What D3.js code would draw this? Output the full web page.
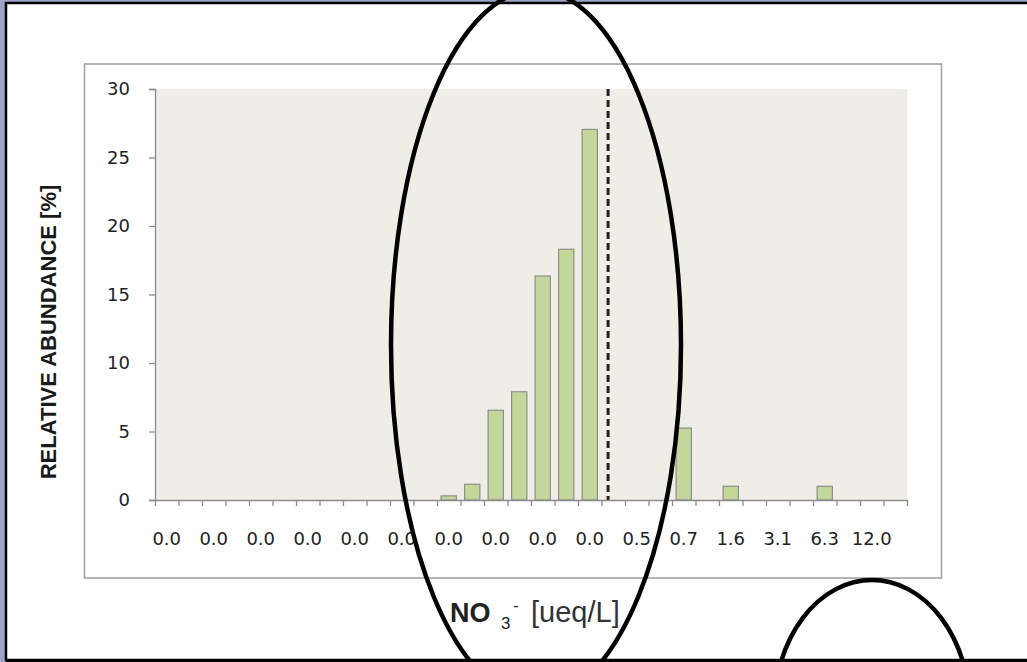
<!DOCTYPE html>
<meta charset="UTF-8">
<style>
body { margin: 0; }
.axis path, .axis line { stroke: #8c8c8c; stroke-width: 1.3px; fill: none; }
.tick-label { font: 18px "DejaVu Sans", sans-serif; fill: #222; }
</style>
<body>
<script src="https://d3js.org/d3.v7.min.js"></script>
<script>

// category labels (only every other one is printed on the axis)
var labels = ["0.0","0.0","0.0","0.0","0.0","0.0","0.0","0.0","0.0","0.0",
              "0.0","0.0","0.0","0.0","0.0","0.0","0.0","0.0","0.0","0.0",
              "0.5","0.6","0.7","1.1","1.6","2.2","3.1","4.4","6.3","8.8",
              "12.0","17.0"];
// relative abundance [%] per category
var abundance = [0,0,0,0,0,0,0,0,0,0,
                 0,0,0.3,1.15,6.55,7.9,16.35,18.3,27.05,0,
                 0,0,5.25,0,1.0,0,0,0,1.0,0,
                 0,0];
var yTicks = [0, 5, 10, 15, 20, 25, 30];
// threshold line, in category units along the x axis
var threshold = 19.28;

var W = 1027, H = 662;
var svg = d3.select("body").append("svg")
    .attr("width", W)
    .attr("height", H);

// frame of the screenshot
svg.append("rect").attr("width", W).attr("height", H).attr("fill", "#9ea5c9");
svg.append("rect")
    .attr("x", 6).attr("y", 3)
    .attr("width", W - 6 + 5).attr("height", 657)
    .attr("fill", "white")
    .attr("stroke", "black")
    .attr("stroke-width", 2.5);

// chart box
svg.append("rect")
    .attr("x", 84.5).attr("y", 64)
    .attr("width", 857).attr("height", 514)
    .attr("fill", "white")
    .attr("stroke", "#a3a3a3")
    .attr("stroke-width", 1.6);

var plot = {left: 155, right: 907, top: 89, bottom: 500};

var x = d3.scaleBand()
    .domain(d3.range(labels.length))
    .range([plot.left, plot.right])
    .paddingInner(0.35)
    .paddingOuter(0.175);

var xPos = d3.scaleLinear()
    .domain([0, labels.length])
    .range([plot.left, plot.right]);

var y = d3.scaleLinear()
    .domain([0, 30])
    .range([plot.bottom, plot.top]);

// plot area background
svg.append("rect")
    .attr("x", plot.left).attr("y", plot.top)
    .attr("width", plot.right - plot.left)
    .attr("height", plot.bottom - plot.top)
    .attr("fill", "#efede5");

// bars
svg.selectAll("rect.bar")
    .data(abundance.map(function(v, i) { return {i: i, v: v}; })
                   .filter(function(d) { return d.v > 0; }))
  .enter().append("rect")
    .attr("class", "bar")
    .attr("x", function(d) { return x(d.i); })
    .attr("y", function(d) { return y(d.v); })
    .attr("width", x.bandwidth())
    .attr("height", function(d) { return y(0) - y(d.v); })
    .attr("fill", "#c4d79b")
    .attr("stroke", "#8e8e8e")
    .attr("stroke-width", 1.2);

// dashed threshold line
svg.append("line")
    .attr("x1", xPos(threshold)).attr("x2", xPos(threshold))
    .attr("y1", plot.top).attr("y2", plot.bottom)
    .attr("stroke", "#222")
    .attr("stroke-width", 3)
    .attr("stroke-dasharray", "7,4");

// y axis
var yAxis = svg.append("g")
    .attr("class", "axis")
    .attr("transform", "translate(" + plot.left + ",0)")
    .call(d3.axisLeft(y).tickValues(yTicks).tickSize(6).tickSizeOuter(6).tickPadding(19));
yAxis.selectAll("text")
    .attr("class", "tick-label")
    .attr("fill", null)
    .style("font-size", "18px");

// x axis: ticks at category boundaries
svg.append("g")
    .attr("class", "axis")
    .attr("transform", "translate(0," + plot.bottom + ")")
    .call(d3.axisBottom(xPos).tickValues(d3.range(labels.length + 1))
          .tickSize(6).tickSizeOuter(0).tickFormat(""));

svg.append("g").selectAll("text")
    .data(labels.map(function(l, i) { return {l: l, i: i}; })
                .filter(function(d) { return d.i % 2 === 0; }))
  .enter().append("text")
    .attr("class", "tick-label")
    .attr("x", function(d) { return x(d.i) + x.bandwidth() / 2; })
    .attr("y", 545)
    .attr("text-anchor", "middle")
    .text(function(d) { return d.l; });

// y axis title
svg.append("text")
    .attr("transform", "translate(56,332) rotate(-90)")
    .attr("text-anchor", "middle")
    .style("font", "bold 22px 'Liberation Sans', Arial, sans-serif")
    .attr("fill", "#1a1a1a")
    .text("RELATIVE ABUNDANCE [%]");

// x axis title
var xt = svg.append("text")
    .attr("x", 450).attr("y", 622)
    .style("font-family", "'Liberation Sans', Arial, sans-serif")
    .attr("fill", "#222");
xt.append("tspan").style("font-weight", "bold").style("font-size", "27px").text("NO");
xt.append("tspan").style("font-size", "17px").attr("x", 501).attr("y", 629).text("3");
xt.append("tspan").style("font-size", "17px").attr("x", 513).attr("y", 611).text("-");
xt.append("tspan").style("font-size", "29px").attr("x", 531).attr("y", 622).attr("fill", "#333").text("[ueq/L]");

// hand-drawn highlight ellipses
svg.append("ellipse")
    .attr("cx", 536).attr("cy", 345)
    .attr("rx", 145).attr("ry", 355)
    .attr("fill", "none")
    .attr("stroke", "black")
    .attr("stroke-width", 4.5);

svg.append("ellipse")
    .attr("cx", 872).attr("cy", 710)
    .attr("rx", 98).attr("ry", 130)
    .attr("fill", "none")
    .attr("stroke", "black")
    .attr("stroke-width", 4.5);

// bottom frame edge sits above the ellipse
svg.append("line")
    .attr("x1", 6).attr("x2", W)
    .attr("y1", 660.5).attr("y2", 660.5)
    .attr("stroke", "black")
    .attr("stroke-width", 3);

</script>
</body>
